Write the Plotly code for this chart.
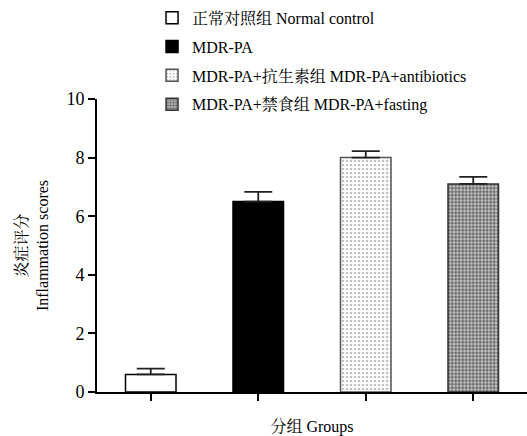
import plotly.graph_objects as go

groups = ["正常对照组 Normal control", "MDR-PA", "MDR-PA+抗生素组 MDR-PA+antibiotics", "MDR-PA+禁食组 MDR-PA+fasting"]
scores = [0.6, 6.5, 8.0, 7.1]
errors = [0.2, 0.33, 0.22, 0.24]
y_ticks = [0, 2, 4, 6, 8, 10]

FONT = "Liberation Serif, Times New Roman, Noto Serif CJK SC, Noto Sans CJK SC, serif"

styles = [
    dict(color="white", line=dict(color="black", width=1.5)),
    dict(color="black", line=dict(color="black", width=1.5)),
    dict(color="white", line=dict(color="#555", width=1.5),
         pattern=dict(shape=".", fgcolor="#888", bgcolor="white", size=4, solidity=0.35)),
    dict(color="white", line=dict(color="#333", width=1.5),
         pattern=dict(shape=".", fgcolor="#000", bgcolor="#ccc", size=3.5, solidity=0.55)),
]

fig = go.Figure()
for i, g in enumerate(groups):
    fig.add_trace(go.Bar(
        x=[i], y=[scores[i]], name=g, legendgroup=g,
        marker=styles[i], width=0.47,
        error_y=dict(type="data", symmetric=False, array=[errors[i]], arrayminus=[0],
                     color="#222", thickness=1.8, width=14),
    ))

fig.update_layout(
    width=527, height=436,
    margin=dict(l=97, r=0, t=99, b=44, autoexpand=False),
    paper_bgcolor="white", plot_bgcolor="white",
    font=dict(family=FONT, size=16, color="black"),
    showlegend=True,
    legend=dict(x=0.128, y=1.335, xanchor="left", yanchor="top", bgcolor="rgba(0,0,0,0)",
                font=dict(size=16, family=FONT), tracegroupgap=5, traceorder="grouped",
                itemwidth=30),
    xaxis=dict(range=[-0.5, 3.5], tickvals=[0, 1, 2, 3], ticktext=["", "", "", ""],
               showline=True, linecolor="black", linewidth=2, ticks="outside",
               ticklen=7, tickwidth=2, tickcolor="black", showgrid=False, zeroline=False,
               title=dict(text="分组 Groups", font=dict(size=16), standoff=20)),
    yaxis=dict(range=[0, 10], tickvals=y_ticks, showline=True, linecolor="black", linewidth=2,
               ticks="outside", ticklen=7, tickwidth=2, tickcolor="black",
               showgrid=False, zeroline=False, tickfont=dict(size=18),
               title=dict(text="炎症评分<br>Inflammation scores", font=dict(size=16), standoff=14)),
)

fig.write_html("out.html", config={"displayModeBar": False},
               post_script="document.body.style.margin='0';")
